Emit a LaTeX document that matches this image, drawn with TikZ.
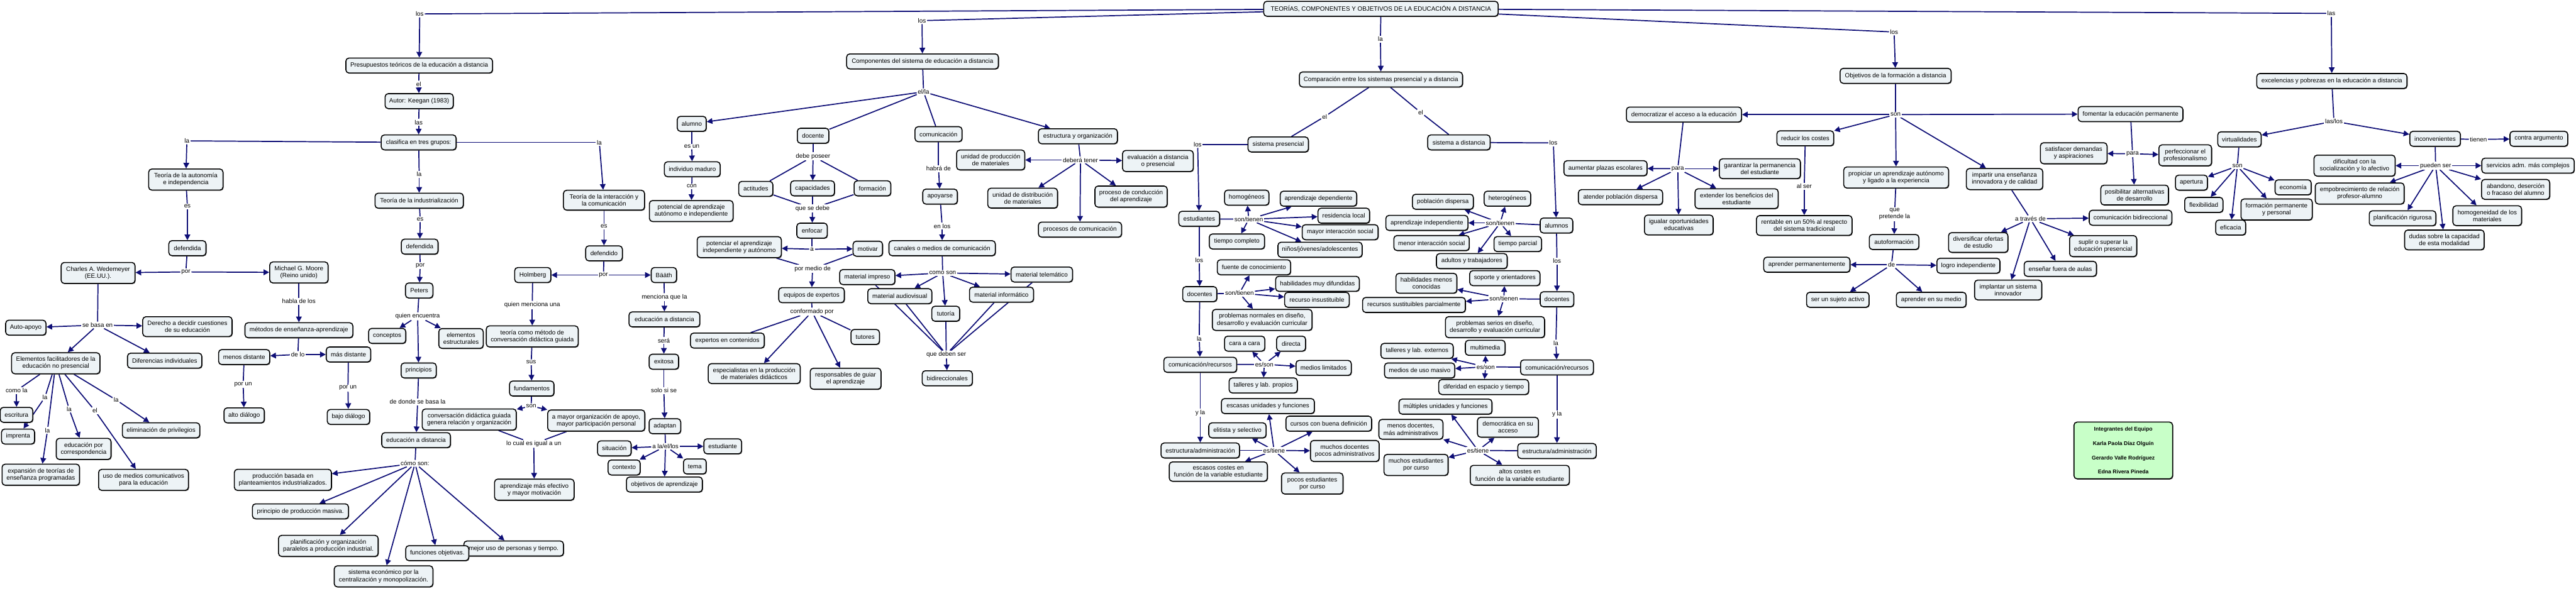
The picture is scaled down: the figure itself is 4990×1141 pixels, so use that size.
\documentclass[tikz,border=0pt]{standalone}
\usepackage{fontspec}
\setmainfont{Liberation Sans}
\usetikzlibrary{arrows.meta,shadows}
\definecolor{nv}{RGB}{14,14,118}
\definecolor{cfill}{RGB}{237,243,246}
\definecolor{gfill}{RGB}{200,255,200}
\pgfdeclarelayer{bg}
\pgfsetlayers{bg,main}
\tikzset{
 concept/.style={draw=black, line width=1.9pt, fill=cfill, rounded corners=6pt, align=center,
   font=\fontsize{12}{13.5}\selectfont, inner xsep=7pt, inner ysep=8pt, minimum height=29pt,
   drop shadow={shadow xshift=1.3pt,shadow yshift=-1.3pt,fill=black!60,opacity=1}},
 link/.style={align=center, font=\fontsize{12}{13.5}\selectfont, inner sep=2pt, fill=white},
 lnk/.style={draw=nv, line width=2.1pt},
 arr/.style={lnk, -{Triangle[length=11pt,width=11pt]}},
}
\newcommand\CN[5]{\node[concept, minimum width=#4pt] (#1) at (#2,#3) {#5};}
\newcommand\LK[4]{\node[link] (#1) at (#2,#3) {#4};}
\newcommand\LN[2]{\draw[lnk] (#1) -- (#2);}
\newcommand\AR[2]{\foreach \x in {#2} {\draw[arr] (#1) -- (\x);}}
\begin{document}
\begin{tikzpicture}[x=1pt,y=-1pt]
\useasboundingbox (0,0) rectangle (4990,1141);
% ---------- top
\CN{main}{2675}{17}{454}{TEORÍAS, COMPONENTES Y OBJETIVOS DE LA EDUCACIÓN A DISTANCIA}
% ---------- branch 1
\CN{pres}{812}{127}{284}{Presupuestos teóricos de la educación a distancia}
\CN{keeg}{812}{196}{132}{Autor: Keegan (1983)}
\CN{clas}{811}{276}{145}{clasifica en tres grupos:}
\CN{tauto}{360}{348}{144}{Teoría de la autonomía\\e independencia}
\CN{tind}{812}{389}{171}{Teoría de la industrialización}
\CN{tint}{1170}{388}{157}{Teoría de la interacción y\\la comunicación}
\CN{defa}{363}{481}{72}{defendida}
\CN{defi}{813}{478}{71}{defendida}
\CN{defo}{1170}{491}{71}{defendido}
\CN{charles}{190}{529}{143}{Charles A. Wedemeyer\\(EE.UU.).}
\CN{moore}{579}{528}{113}{Michael G. Moore\\(Reino unido)}
\CN{peters}{812}{563}{53}{Peters}
\CN{holm}{1032}{533}{70}{Holmberg}
\CN{baath}{1286}{533}{49}{Bääth}
\CN{auto}{50}{635}{78}{Auto-apoyo}
\CN{derecho}{363}{633}{173}{Derecho a decidir cuestiones\\de su educación}
\CN{elem}{108}{704}{171}{Elementos facilitadores de la\\educación no presencial}
\CN{difer}{319}{699}{144}{Diferencias individuales}
\CN{escr}{32}{804}{63}{escritura}
\CN{impr}{35}{846}{64}{imprenta}
\CN{corr}{162}{870}{106}{educación por\\correspondencia}
\CN{expa}{79}{920}{150}{expansión de teorías de\\enseñanza programadas}
\CN{usom}{278}{930}{174}{uso de medios comunicativos\\para la educación}
\CN{elim}{312}{834}{150}{eliminación de privilegios}
\CN{metod}{579}{640}{209}{métodos de enseñanza-aprendizaje}
\CN{menos}{473}{692}{99}{menos distante}
\CN{mas}{675}{687}{86}{más distante}
\CN{alto}{473}{805}{78}{alto diálogo}
\CN{bajo}{675}{808}{82}{bajo diálogo}
\CN{conc}{750}{651}{72}{conceptos}
\CN{princ}{811}{718}{68}{principios}
\CN{estr}{893}{656}{86}{elementos\\estructurales}
\CN{convd}{909}{813}{182}{conversación didáctica guiada\\genera relación y organización}
\CN{edp}{806}{853}{133}{educación a distancia}
\CN{prod}{548}{930}{188}{producción basada en\\planteamientos industrializados.}
\CN{masiva}{582}{991}{186}{principio de producción masiva.}
\CN{plan}{636}{1058}{193}{planificación y organización\\paralelos a producción industrial.}
\CN{sist}{743}{1117}{191}{sistema económico por la\\centralización y monopolización.}
\CN{mejor}{995}{1063}{193}{mejor uso de personas y tiempo.}
\CN{func}{847}{1072}{122}{funciones objetivas.}
\CN{teoria}{1031}{652}{178}{teoría como método de\\conversación didáctica guiada}
\CN{fund}{1030}{753}{86}{fundamentos}
\CN{mayor}{1155}{815}{188}{a mayor organización de apoyo,\\mayor participación personal}
\CN{aprend}{1035}{949}{154}{aprendizaje más efectivo\\y mayor motivación}
\CN{edb}{1287}{619}{137}{educación a distancia}
\CN{exit}{1286}{701}{57}{exitosa}
\CN{adapt}{1288}{826}{61}{adaptan}
\CN{situ}{1190}{869}{65}{situación}
\CN{estu}{1400}{865}{73}{estudiante}
\CN{cont}{1209}{906}{62}{contexto}
\CN{tema}{1346}{904}{44}{tema}
\CN{objap}{1287}{939}{147}{objetivos de aprendizaje}
% ---------- branch 2
\CN{comp}{1787}{119}{294}{Componentes del sistema de educación a distancia}
\CN{alumno}{1340}{240}{56}{alumno}
\CN{indiv}{1341}{328}{108}{individuo maduro}
\CN{poten}{1339}{409}{162}{potencial de aprendizaje\\autónomo e independiente}
\CN{docente}{1575}{263}{61}{docente}
\CN{actit}{1464}{366}{66}{actitudes}
\CN{capac}{1574}{365}{85}{capacidades}
\CN{forma}{1690}{365}{71}{formación}
\CN{enfoc}{1573}{447}{59}{enfocar}
\CN{potenc}{1432}{479}{163}{potenciar el aprendizaje\\independiente y autónomo}
\CN{motiv}{1681}{482}{57}{motivar}
\CN{equip}{1572}{572}{127}{equipos de expertos}
\CN{expc}{1409}{660}{143}{expertos en contenidos}
\CN{espec}{1461}{724}{178}{especialistas en la producción\\de materiales didácticos}
\CN{respo}{1638}{734}{137}{responsables de guiar\\el aprendizaje}
\CN{tutores}{1676}{653}{55}{tutores}
\CN{comu}{1818}{260}{91}{comunicación}
\CN{apoy}{1821}{381}{67}{apoyarse}
\CN{canal}{1825}{481}{206}{canales o medios de comunicación}
\CN{mimp}{1680}{537}{107}{material impreso}
\CN{maud}{1743}{574}{124}{material audiovisual}
\CN{tutoria}{1832}{608}{54}{tutoría}
\CN{minf}{1940}{571}{124}{material informático}
\CN{mtel}{2018}{532}{119}{material telemático}
\CN{bidir}{1835}{733}{97}{bidireccionales}
\CN{estorg}{2088}{264}{153}{estructura y organización}
\CN{unprod}{1919}{310}{132}{unidad de producción\\de materiales}
\CN{evald}{2243}{312}{137}{evaluación a distancia\\o presencial}
\CN{undist}{1981}{384}{135}{unidad de distribución\\de materiales}
\CN{proccond}{2191}{381}{140}{proceso de conducción\\del aprendizaje}
\CN{proccom}{2092}{445}{161}{procesos de comunicación}
% ---------- branch 3
\CN{compar}{2675}{154}{316}{Comparación entre los sistemas presencial y a distancia}
\CN{spres}{2476}{280}{117}{sistema presencial}
\CN{sdist}{2826}{276}{121}{sistema a distancia}
\CN{estp}{2323}{424}{79}{estudiantes}
\CN{homog}{2415}{383}{86}{homogéneos}
\CN{tcomp}{2396}{468}{107}{tiempo completo}
\CN{apdep}{2554}{385}{148}{aprendizaje dependiente}
\CN{resloc}{2603}{418}{100}{residencia local}
\CN{mayint}{2596}{450}{147}{mayor interacción social}
\CN{ninos}{2557}{484}{163}{niños/jóvenes/adolescentes}
\CN{docp}{2324}{570}{66}{docentes}
\CN{fuente}{2429}{518}{142}{fuente de conocimiento}
\CN{habdif}{2552}{550}{162}{habilidades muy difundidas}
\CN{recins}{2551}{581}{125}{recurso insustituible}
\CN{probn}{2445}{620}{193}{problemas normales en diseño,\\desarrollo y evaluación curricular}
\CN{comrp}{2325}{707}{141}{comunicación/recursos}
\CN{cara}{2411}{666}{78}{cara a cara}
\CN{direc}{2501}{666}{56}{directa}
\CN{medlim}{2564}{713}{107}{medios limitados}
\CN{tallp}{2447}{747}{132}{talleres y lab. propios}
\CN{estap}{2325}{873}{152}{estructura/administración}
\CN{escun}{2456}{787}{180}{escasas unidades y funciones}
\CN{elit}{2397}{834}{111}{elitista y selectivo}
\CN{esccost}{2360}{914}{190}{escasos costes en\\función de la variable estudiante}
\CN{cursos}{2574}{821}{166}{cursos con buena definición}
\CN{muchdoc}{2605}{874}{133}{muchos docentes\\pocos administrativos}
\CN{pocest}{2542}{937}{119}{pocos estudiantes\\por curso}
\CN{alumnos}{3015}{437}{63}{alumnos}
\CN{pobdis}{2795}{391}{118}{población dispersa}
\CN{heter}{2920}{385}{90}{heterogéneos}
\CN{apind}{2764}{432}{159}{aprendizaje independiente}
\CN{menint}{2773}{471}{146}{menor interacción social}
\CN{tparc}{2940}{473}{92}{tiempo parcial}
\CN{adult}{2851}{506}{137}{adultos y trabajadores}
\CN{docd}{3016}{580}{65}{docentes}
\CN{habmen}{2763}{549}{118}{habilidades menos\\conocidas}
\CN{soporte}{2915}{539}{136}{soporte y orientadores}
\CN{recsus}{2739}{591}{199}{recursos sustituibles parcialmente}
\CN{probs}{2896}{634}{192}{problemas serios en diseño,\\desarrollo y evaluación curricular}
\CN{comrd}{3016}{712}{141}{comunicación/recursos}
\CN{tallext}{2745}{680}{140}{talleres y lab. externos}
\CN{multim}{2877}{674}{77}{multimedia}
\CN{medmas}{2750}{718}{136}{medios de uso masivo}
\CN{diferi}{2874}{750}{174}{diferidad en espacio y tiempo}
\CN{estad}{3016}{874}{152}{estructura/administración}
\CN{multun}{2800}{788}{180}{múltiples unidades y funciones}
\CN{menosdoc}{2733}{832}{124}{menos docentes,\\más administrativos}
\CN{democ}{2921}{828}{118}{democrática en su\\acceso}
\CN{muchest}{2743}{901}{124}{muchos estudiantes\\por curso}
\CN{altos}{2944}{921}{192}{altos costes en\\función de la variable estudiante}
% ---------- branch 4
\CN{objf}{3672}{147}{215}{Objetivos de la formación a distancia}
\CN{democr}{3262}{222}{223}{democratizar el acceso a la educación}
\CN{foment}{4127}{221}{203}{fomentar la educación permanente}
\CN{reduc}{3497}{268}{110}{reducir los costes}
\CN{propic}{3673}{344}{203}{propiciar un aprendizaje autónomo\\y ligado a la experiencia}
\CN{impart}{3883}{347}{148}{impartir una enseñanza\\innovadora y de calidad}
\CN{rentab}{3495}{437}{185}{rentable en un 50\% al respecto\\del sistema tradicional}
\CN{autof}{3669}{469}{96}{autoformación}
\CN{apperm}{3500}{513}{167}{aprender permanentemente}
\CN{logro}{3813}{515}{122}{logro independiente}
\CN{sujeto}{3560}{581}{121}{ser un sujeto activo}
\CN{medio}{3741}{581}{135}{aprender en su medio}
\CN{combid}{4127}{422}{160}{comunicación bidireccional}
\CN{diver}{3832}{470}{115}{diversificar ofertas\\de estudio}
\CN{suplir}{4074}{477}{130}{suplir o superar la\\educación presencial}
\CN{ensen}{3991}{521}{140}{enseñar fuera de aulas}
\CN{implan}{3890}{562}{130}{implantar un sistema\\innovador}
\CN{satisf}{4017}{297}{129}{satisfacer demandas\\y aspiraciones}
\CN{posib}{4135}{378}{131}{posibilitar alternativas\\de desarrollo}
\CN{perfec}{4233}{301}{102}{perfeccionar el\\profesionalismo}
\CN{aument}{3110}{326}{161}{aumentar plazas escolares}
\CN{atend}{3139}{382}{163}{atender población dispersa}
\CN{igual}{3252}{436}{133}{igualar oportunidades\\educativas}
\CN{exten}{3364}{385}{161}{extender los beneficios del\\estudiante}
\CN{garan}{3409}{327}{157}{garantizar la permanencia\\del estudiante}
% ---------- branch 5
\CN{excel}{4517}{157}{291}{excelencias y pobrezas en la educación a distancia}
\CN{virt}{4338}{270}{84}{virtualidades}
\CN{incon}{4717}{269}{98}{inconvenientes}
\CN{contra}{4918}{269}{112}{contra argumento}
\CN{apert}{4245}{354}{62}{apertura}
\CN{econ}{4442}{363}{70}{economía}
\CN{flex}{4269}{397}{74}{flexibilidad}
\CN{formp}{4410}{406}{138}{formación permanente\\y personal}
\CN{efic}{4321}{441}{58}{eficacia}
\CN{dific}{4561}{321}{157}{dificultad con la\\socialización y lo afectivo}
\CN{servi}{4897}{321}{179}{servicios adm. más complejos}
\CN{empob}{4571}{375}{172}{empobrecimiento de relación\\profesor-alumno}
\CN{aband}{4873}{367}{132}{abandono, deserción\\o fracaso del alumno}
\CN{planr}{4654}{423}{129}{planificación rigurosa}
\CN{homogm}{4818}{418}{133}{homogeneidad de los\\materiales}
\CN{dudas}{4735}{465}{154}{dudas sobre la capacidad\\de esta modalidad}
% ---------- team box
\node[draw=black, line width=1.9pt, fill=gfill, rounded corners=6pt, minimum width=191pt,
  minimum height=110pt, align=center, font=\bfseries\fontsize{10.5}{27.7}\selectfont,
  drop shadow={shadow xshift=1.3pt,shadow yshift=-1.3pt,fill=black!60,opacity=1}]
  (equipo) at (4113,873) {Integrantes del Equipo\\Karla Paola Díaz Olguín\\Gerardo Valle Rodríguez\\Edna Rivera Pineda};
% ---------- linking phrases
\LK{l1}{813}{27}{los}
\LK{l2}{1786}{40}{los}
\LK{l3}{2674}{76}{la}
\LK{l4}{3669}{62}{los}
\LK{l5}{4516}{26}{las}
\LK{lel}{811}{163}{el}
\LK{llas}{811}{237}{las}
\LK{lla1}{362}{273}{la}
\LK{lla2}{812}{338}{la}
\LK{lla3}{1161}{276}{la}
\LK{les1}{363}{400}{es}
\LK{les2}{814}{425}{es}
\LK{les3}{1170}{439}{es}
\LK{lpor1}{360}{527}{por}
\LK{lpor2}{814}{515}{por}
\LK{lpor3}{1169}{533}{por}
\LK{lsb}{189}{630}{se basa en}
\LK{lcomo}{32}{757}{como la}
\LK{lla4}{87}{770}{la}
\LK{lla5}{134}{793}{la}
\LK{lel2}{184}{796}{el}
\LK{lla6}{225}{775}{la}
\LK{lla7}{92}{834}{la}
\LK{lhab}{579}{584}{habla de los}
\LK{ldelo}{577}{687}{de lo}
\LK{lpu1}{471}{745}{por un}
\LK{lpu2}{674}{752}{por un}
\LK{lquien}{809}{613}{quien encuentra}
\LK{ldonde}{809}{779}{de donde se basa la}
\LK{lcomo2}{804}{898}{cómo son:}
\LK{lqm}{1031}{591}{quien menciona una}
\LK{lsus}{1029}{702}{sus}
\LK{lson}{1029}{787}{son}
\LK{llocual}{1034}{860}{lo cual es igual a un}
\LK{lmen}{1287}{576}{menciona que la}
\LK{lsera}{1286}{660}{será}
\LK{lsolo}{1286}{757}{solo si se}
\LK{lalael}{1289}{865}{a la/el/los}
\LK{lella}{1789}{178}{el/la}
\LK{lesun}{1340}{284}{es un}
\LK{lcon}{1340}{361}{con}
\LK{ldebe}{1575}{303}{debe poseer}
\LK{lque}{1574}{404}{que se debe}
\LK{la}{1573}{483}{a}
\LK{lpmd}{1574}{521}{por medio de}
\LK{lconf}{1573}{604}{conformado por}
\LK{lhabra}{1818}{327}{habrá de}
\LK{lenlos}{1825}{438}{en los}
\LK{lcomoson}{1826}{529}{como son}
\LK{lqds}{1833}{687}{que deben ser}
\LK{ldeb}{2093}{310}{deberá tener}
\LK{lel3}{2566}{226}{el}
\LK{lel4}{2752}{218}{el}
\LK{llosp}{2320}{280}{los}
\LK{lstp}{2419}{425}{son/tienen}
\LK{llosp2}{2323}{504}{los}
\LK{lstd}{2401}{568}{son/tienen}
\LK{lla8}{2323}{656}{la}
\LK{lesp}{2449}{706}{es/son}
\LK{lylap}{2325}{800}{y la}
\LK{letp}{2468}{873}{es/tiene}
\LK{llosd}{3009}{277}{los}
\LK{lstd2}{2906}{432}{son/tienen}
\LK{llosd2}{3016}{506}{los}
\LK{lstd3}{2913}{579}{son/tienen}
\LK{lla9}{3014}{665}{la}
\LK{lesd}{2878}{711}{es/son}
\LK{lylad}{3016}{803}{y la}
\LK{letd}{2863}{873}{es/tiene}
\LK{lson2}{3672}{222}{son}
\LK{lpara1}{3250}{327}{para}
\LK{lalser}{3495}{361}{al ser}
\LK{lqpl}{3670}{415}{que\\pretende la}
\LK{lde}{3664}{513}{de}
\LK{latr}{3933}{424}{a través de}
\LK{lpara2}{4131}{298}{para}
\LK{llaslos}{4521}{235}{las/los}
\LK{lson3}{4334}{322}{son}
\LK{ltien}{4801}{270}{tienen}
\LK{lpued}{4718}{321}{pueden ser}
% ---------- connectors
\begin{pgfonlayer}{bg}
\LN{main}{l1}\AR{l1}{pres}
\LN{main}{l2}\AR{l2}{comp}
\LN{main}{l3}\AR{l3}{compar}
\LN{main}{l4}\AR{l4}{objf}
\LN{main}{l5}\AR{l5}{excel}
% branch 1
\LN{pres}{lel}\AR{lel}{keeg}
\LN{keeg}{llas}\AR{llas}{clas}
\LN{clas}{lla1}\AR{lla1}{tauto}
\LN{clas}{lla2}\AR{lla2}{tind}
\LN{clas}{lla3}\AR{lla3}{tint}
\LN{tauto}{les1}\AR{les1}{defa}
\LN{tind}{les2}\AR{les2}{defi}
\LN{tint}{les3}\AR{les3}{defo}
\LN{defa}{lpor1}\AR{lpor1}{charles,moore}
\LN{defi}{lpor2}\AR{lpor2}{peters}
\LN{defo}{lpor3}\AR{lpor3}{holm,baath}
\LN{charles}{lsb}\AR{lsb}{auto,derecho,elem,difer}
\LN{elem}{lcomo}\AR{lcomo}{escr}
\LN{elem}{lla4}\AR{lla4}{impr}
\LN{elem}{lla5}\AR{lla5}{corr}
\LN{elem}{lel2}\AR{lel2}{usom}
\LN{elem}{lla6}\AR{lla6}{elim}
\LN{elem}{lla7}\AR{lla7}{expa}
\LN{moore}{lhab}\AR{lhab}{metod}
\LN{metod}{ldelo}\AR{ldelo}{menos,mas}
\LN{menos}{lpu1}\AR{lpu1}{alto}
\LN{mas}{lpu2}\AR{lpu2}{bajo}
\LN{peters}{lquien}\AR{lquien}{conc,princ,estr}
\LN{princ}{ldonde}\AR{ldonde}{edp}
\LN{edp}{lcomo2}\AR{lcomo2}{prod,masiva,plan,sist,func,mejor}
\LN{holm}{lqm}\AR{lqm}{teoria}
\LN{teoria}{lsus}\AR{lsus}{fund}
\LN{fund}{lson}\AR{lson}{convd,mayor}
\LN{convd}{llocual}\LN{mayor}{llocual}\AR{llocual}{aprend}
\LN{baath}{lmen}\AR{lmen}{edb}
\LN{edb}{lsera}\AR{lsera}{exit}
\LN{exit}{lsolo}\AR{lsolo}{adapt}
\LN{adapt}{lalael}\AR{lalael}{situ,estu,cont,tema,objap}
% branch 2
\LN{comp}{lella}\AR{lella}{alumno,estorg}\LN{lella}{docente}\LN{lella}{comu}
\LN{alumno}{lesun}\AR{lesun}{indiv}
\LN{indiv}{lcon}\AR{lcon}{poten}
\LN{docente}{ldebe}\LN{ldebe}{actit}\AR{ldebe}{capac}\LN{ldebe}{forma}
\LN{actit}{lque}\LN{capac}{lque}\LN{forma}{lque}\AR{lque}{enfoc}
\LN{enfoc}{la}\AR{la}{potenc,motiv}
\LN{potenc}{lpmd}\LN{motiv}{lpmd}\AR{lpmd}{equip}
\LN{equip}{lconf}\LN{lconf}{expc}\AR{lconf}{espec,respo}\LN{lconf}{tutores}
\LN{comu}{lhabra}\AR{lhabra}{apoy}
\LN{apoy}{lenlos}\AR{lenlos}{canal}
\LN{canal}{lcomoson}\AR{lcomoson}{mimp,maud,tutoria,minf,mtel}
\LN{mimp}{lqds}\LN{maud}{lqds}\LN{tutoria}{lqds}\LN{minf}{lqds}\LN{mtel}{lqds}\AR{lqds}{bidir}
\LN{estorg}{ldeb}\AR{ldeb}{unprod,evald,undist,proccond,proccom}
% branch 3
\LN{compar}{lel3}\LN{lel3}{spres}
\LN{compar}{lel4}\LN{lel4}{sdist}
\LN{spres}{llosp}\AR{llosp}{estp}
\LN{estp}{lstp}\AR{lstp}{homog,tcomp,apdep,resloc,mayint,ninos}
\LN{estp}{llosp2}\AR{llosp2}{docp}
\LN{docp}{lstd}\AR{lstd}{fuente,habdif,recins,probn}
\LN{docp}{lla8}\AR{lla8}{comrp}
\LN{comrp}{lesp}\AR{lesp}{cara,direc,medlim,tallp}
\LN{comrp}{lylap}\AR{lylap}{estap}
\LN{estap}{letp}\AR{letp}{escun,elit,esccost,cursos,muchdoc,pocest}
\LN{sdist}{llosd}\AR{llosd}{alumnos}
\LN{alumnos}{lstd2}\AR{lstd2}{pobdis,heter,apind,menint,tparc,adult}
\LN{alumnos}{llosd2}\AR{llosd2}{docd}
\LN{docd}{lstd3}\AR{lstd3}{habmen,soporte,recsus,probs}
\LN{docd}{lla9}\AR{lla9}{comrd}
\LN{comrd}{lesd}\AR{lesd}{tallext,multim,medmas,diferi}
\LN{comrd}{lylad}\AR{lylad}{estad}
\LN{estad}{letd}\AR{letd}{multun,menosdoc,democ,muchest,altos}
% branch 4
\LN{objf}{lson2}\AR{lson2}{democr,foment,reduc,propic,impart}
\LN{democr}{lpara1}\AR{lpara1}{aument,atend,igual,exten,garan}
\LN{reduc}{lalser}\AR{lalser}{rentab}
\LN{propic}{lqpl}\AR{lqpl}{autof}
\LN{autof}{lde}\AR{lde}{apperm,logro,sujeto,medio}
\LN{impart}{latr}\AR{latr}{combid,diver,suplir,ensen,implan}
\LN{foment}{lpara2}\AR{lpara2}{satisf,perfec,posib}
% branch 5
\LN{excel}{llaslos}\AR{llaslos}{virt,incon}
\LN{virt}{lson3}\AR{lson3}{apert,econ,flex,formp,efic}
\LN{incon}{ltien}\AR{ltien}{contra}
\LN{incon}{lpued}\AR{lpued}{dific,servi,empob,aband,planr,homogm,dudas}
\end{pgfonlayer}
\end{tikzpicture}
\end{document}
